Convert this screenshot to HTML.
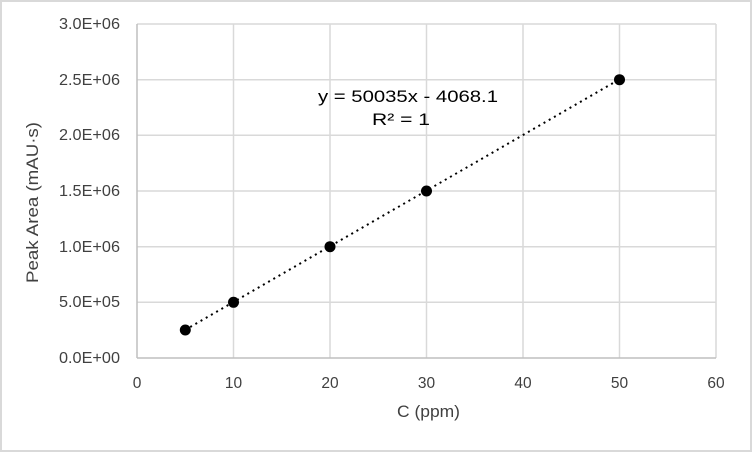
<!DOCTYPE html>
<html><head><style>body{margin:0;background:#fff}svg{display:block}</style></head><body>
<svg width="752" height="452" xmlns="http://www.w3.org/2000/svg" font-family="Liberation Sans, sans-serif">
<rect x="1" y="1" width="750" height="450" fill="#fff" stroke="#d9d9d9" stroke-width="2"/>
<g stroke="#d9d9d9" stroke-width="1.5">
<line x1="137" y1="24" x2="716" y2="24"/><line x1="137" y1="79.7" x2="716" y2="79.7"/><line x1="137" y1="135.3" x2="716" y2="135.3"/><line x1="137" y1="191" x2="716" y2="191"/><line x1="137" y1="246.7" x2="716" y2="246.7"/><line x1="137" y1="302.3" x2="716" y2="302.3"/>
<line x1="233.5" y1="24" x2="233.5" y2="358"/><line x1="330" y1="24" x2="330" y2="358"/><line x1="426.5" y1="24" x2="426.5" y2="358"/><line x1="523" y1="24" x2="523" y2="358"/><line x1="619.5" y1="24" x2="619.5" y2="358"/><line x1="716" y1="24" x2="716" y2="358"/>
</g>
<g stroke="#bfbfbf" stroke-width="1.5"><line x1="137" y1="24" x2="137" y2="358"/><line x1="137" y1="358" x2="716" y2="358"/></g>
<g font-size="15.5" fill="#404040">
<text x="59" y="29" textLength="61" lengthAdjust="spacingAndGlyphs">3.0E+06</text>
<text x="59" y="85" textLength="61" lengthAdjust="spacingAndGlyphs">2.5E+06</text>
<text x="59" y="140" textLength="61" lengthAdjust="spacingAndGlyphs">2.0E+06</text>
<text x="59" y="196" textLength="61" lengthAdjust="spacingAndGlyphs">1.5E+06</text>
<text x="59" y="252" textLength="61" lengthAdjust="spacingAndGlyphs">1.0E+06</text>
<text x="59" y="307" textLength="61" lengthAdjust="spacingAndGlyphs">5.0E+05</text>
<text x="59" y="363" textLength="61" lengthAdjust="spacingAndGlyphs">0.0E+00</text>
</g>
<g font-size="15.5" fill="#404040" text-anchor="middle">
<text x="137" y="388">0</text><text x="233.5" y="388">10</text><text x="330" y="388">20</text><text x="426.5" y="388">30</text><text x="523" y="388">40</text><text x="619.5" y="388">50</text><text x="716" y="388">60</text>
</g>
<g font-size="16.5" fill="#404040">
<text x="397" y="417" textLength="63" lengthAdjust="spacingAndGlyphs">C (ppm)</text>
<text transform="translate(38,283) rotate(-90)" textLength="161" lengthAdjust="spacingAndGlyphs">Peak Area (mAU·s)</text>
<text x="318" y="102" fill="#000" textLength="180" lengthAdjust="spacingAndGlyphs">y = 50035x - 4068.1</text>
<text x="372" y="125" fill="#000" textLength="58" lengthAdjust="spacingAndGlyphs">R² = 1</text>
</g>
<line x1="185" y1="330" x2="620" y2="79" stroke="#000" stroke-width="2" stroke-dasharray="2,4"/>
<g fill="#000"><circle cx="185.3" cy="330" r="5.5"/><circle cx="233.5" cy="302.3" r="5.5"/><circle cx="330" cy="246.7" r="5.5"/><circle cx="426.5" cy="191" r="5.5"/><circle cx="619.5" cy="79.7" r="5.5"/></g>
</svg>
</body></html>
